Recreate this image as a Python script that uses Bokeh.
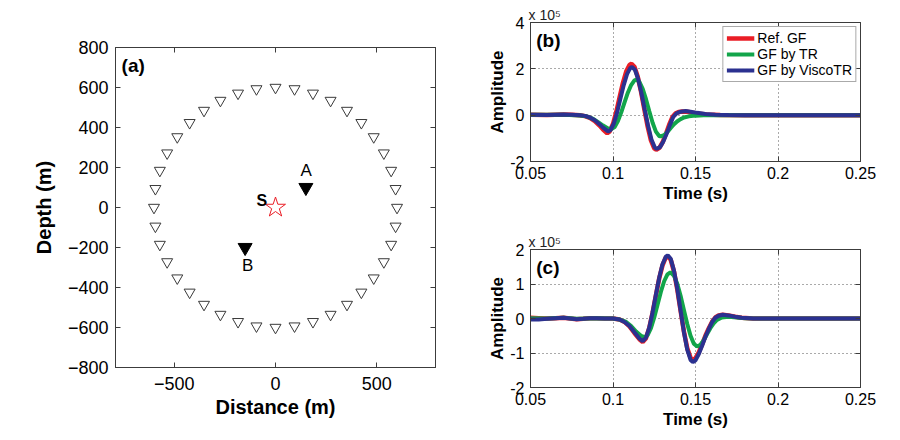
from bokeh.plotting import figure
from bokeh.models import Range1d, LinearAxis, FixedTicker, Label, Legend, LegendItem, CustomJSTickFormatter
from bokeh.layouts import row, column
from bokeh.embed import file_html
from bokeh.resources import INLINE

FONT = "Liberation Sans"
AX = "#3c3c3c"
RED = "#EA1D25"
GREEN = "#12A54A"
BLUE = "#2B3190"

# ---------------- Panel (a) data ----------------
station_x = [600, 593, 571, 535, 485, 424, 353, 272, 185, 94, 0, -94, -185, -272, -353, -424, -485, -535, -571, -593,
             -600, -593, -571, -535, -485, -424, -353, -272, -185, -94, 0, 94, 185, 272, 353, 424, 485, 535, 571, 593]
station_y = [0, 94, 185, 272, 353, 424, 485, 535, 571, 593, 600, 593, 571, 535, 485, 424, 353, 272, 185, 94,
             0, -94, -185, -272, -353, -424, -485, -535, -571, -593, -600, -593, -571, -535, -485, -424, -353, -272, -185, -94]
receiver_names = ["A", "B"]
receiver_x = [150, -150]
receiver_y = [100, -200]
source_x = [0]
source_y = [0]
a_xticks = [-500, 0, 500]
a_xlabels = ["\u2212500", "0", "500"]
a_yticks = [-800, -600, -400, -200, 0, 200, 400, 600, 800]
a_ylabels = ["\u2212800", "\u2212600", "\u2212400", "\u2212200", "0", "200", "400", "600", "800"]

# ---------------- Panel (b) data (amplitude x 1e5) ----------------
b_t_ref = [0.050, 0.060, 0.070, 0.075, 0.080, 0.083, 0.086, 0.089, 0.092, 0.094, 0.0965, 0.098, 0.100, 0.102, 0.104,
           0.106, 0.108, 0.110, 0.1112, 0.113, 0.115, 0.117, 0.119, 0.121, 0.123, 0.125, 0.1262, 0.128, 0.130, 0.132,
           0.134, 0.136, 0.138, 0.140, 0.142, 0.145, 0.148, 0.152, 0.157, 0.165, 0.180, 0.250]
b_a_ref = [0.02, 0.01, 0.03, 0.02, 0.00, -0.04, -0.12, -0.26, -0.46, -0.62, -0.78, -0.70, -0.38, 0.14, 0.77,
           1.385, 1.88, 2.17, 2.22, 2.09, 1.66, 1.01, 0.25, -0.49, -1.09, -1.43, -1.49, -1.42, -1.18, -0.82,
           -0.42, -0.08, 0.08, 0.14, 0.16, 0.15, 0.11, 0.06, 0.03, 0.01, 0.00, 0.00]
b_t_tr = [0.050, 0.070, 0.080, 0.084, 0.088, 0.091, 0.094, 0.097, 0.099, 0.101, 0.103, 0.105, 0.107, 0.109, 0.111,
          0.113, 0.1142, 0.116, 0.118, 0.120, 0.122, 0.124, 0.126, 0.128, 0.1288, 0.131, 0.133, 0.135, 0.137, 0.139,
          0.141, 0.143, 0.146, 0.150, 0.155, 0.165, 0.180, 0.250]
b_a_tr = [0.02, 0.02, -0.01, -0.05, -0.16, -0.30, -0.45, -0.57, -0.60, -0.51, -0.255, 0.12, 0.55, 0.97, 1.30,
          1.50, 1.53, 1.44, 1.14, 0.69, 0.17, -0.33, -0.71, -0.90, -0.92, -0.86, -0.72, -0.55, -0.39, -0.26,
          -0.17, -0.10, -0.05, -0.02, 0.00, 0.01, 0.00, 0.00]
b_t_visco = [0.050, 0.060, 0.070, 0.075, 0.080, 0.083, 0.086, 0.089, 0.092, 0.094, 0.097, 0.0985, 0.1005, 0.1025, 0.1045,
             0.1065, 0.1085, 0.1105, 0.1115, 0.1133, 0.1153, 0.1173, 0.1193, 0.1213, 0.1233, 0.1253, 0.1265, 0.1285,
             0.1305, 0.1325, 0.1345, 0.1365, 0.1385, 0.141, 0.144, 0.147, 0.151, 0.156, 0.162, 0.170, 0.180, 0.250]
b_a_visco = [0.02, 0.01, 0.03, 0.02, 0.00, -0.03, -0.10, -0.22, -0.40, -0.54, -0.70, -0.64, -0.36, 0.12, 0.72,
             1.30, 1.77, 2.04, 2.08, 1.96, 1.55, 0.93, 0.22, -0.47, -1.05, -1.39, -1.45, -1.38,
             -1.14, -0.80, -0.42, -0.08, 0.08, 0.15, 0.18, 0.15, 0.10, 0.05, 0.02, 0.01, 0.00, 0.00]

# ---------------- Panel (c) data (amplitude x 1e5) ----------------
c_t_ref = [0.050, 0.055, 0.060, 0.065, 0.070, 0.074, 0.078, 0.082, 0.086, 0.090, 0.095, 0.100, 0.104, 0.107, 0.110,
           0.113, 0.116, 0.118, 0.120, 0.122, 0.124, 0.126, 0.128, 0.130, 0.132, 0.1332, 0.135, 0.137, 0.139, 0.141,
           0.143, 0.145, 0.147, 0.1484, 0.150, 0.152, 0.154, 0.156, 0.158, 0.160, 0.162, 0.164, 0.1665, 0.170, 0.174,
           0.178, 0.185, 0.200, 0.250]
c_a_ref = [0.02, 0.01, 0.00, 0.01, 0.02, 0.00, -0.02, -0.01, 0.01, 0.01, 0.00, 0.00, -0.03, -0.10, -0.23,
           -0.42, -0.60, -0.68, -0.57, -0.27, 0.17, 0.67, 1.16, 1.54, 1.77, 1.80, 1.70, 1.35, 0.83, 0.21,
           -0.38, -0.86, -1.14, -1.20, -1.15, -0.98, -0.75, -0.50, -0.29, -0.10, 0.03, 0.09, 0.11, 0.09, 0.05,
           0.02, 0.00, 0.00, 0.00]
c_t_tr = [0.050, 0.060, 0.070, 0.078, 0.090, 0.100, 0.104, 0.108, 0.111, 0.114, 0.117, 0.1192, 0.121, 0.123, 0.125,
          0.127, 0.129, 0.131, 0.133, 0.1348, 0.137, 0.139, 0.141, 0.143, 0.145, 0.147, 0.149, 0.151, 0.153, 0.155,
          0.157, 0.159, 0.161, 0.163, 0.166, 0.170, 0.175, 0.180, 0.190, 0.250]
c_a_tr = [0.01, 0.00, 0.02, -0.01, 0.01, 0.00, -0.03, -0.10, -0.22, -0.38, -0.50, -0.54, -0.48, -0.28, 0.03,
          0.40, 0.77, 1.08, 1.28, 1.34, 1.24, 1.00, 0.65, 0.24, -0.16, -0.50, -0.73, -0.81, -0.76, -0.63,
          -0.45, -0.28, -0.14, -0.04, 0.03, 0.05, 0.03, 0.01, 0.00, 0.00]
c_t_visco = c_t_ref
c_a_visco = [-0.03, -0.03, -0.01, 0.01, 0.02, 0.00, -0.02, -0.01, 0.01, 0.01, 0.00, 0.00, -0.03, -0.10, -0.22,
             -0.40, -0.58, -0.66, -0.555, -0.26, 0.18, 0.69, 1.18, 1.57, 1.79, 1.83, 1.73, 1.38, 0.85, 0.22,
             -0.40, -0.90, -1.20, -1.26, -1.21, -1.03, -0.79, -0.53, -0.31, -0.11, 0.02, 0.08, 0.11, 0.09, 0.05,
             0.02, 0.00, 0.00, 0.00]

t_ticks = [0.05, 0.1, 0.15, 0.2, 0.25]
t_labels = ["0.05", "0.1", "0.15", "0.2", "0.25"]
b_yticks = [-2, 0, 2, 4]
b_ylabels = ["-2", "0", "2", "4"]
c_yticks = [-2, -1, 0, 1, 2]
c_ylabels = ["-2", "-1", "0", "1", "2"]
series_names = ["Ref. GF", "GF by TR", "GF by ViscoTR"]
scale_text = "x 10\u2075"


def style_axes(p, xticks, xlabels, yticks, ylabels, tick_size, xlabel, ylabel, label_size):
    bottom = p.below[0]
    left = p.left[0]
    bottom.ticker = FixedTicker(ticks=xticks)
    bottom.major_label_overrides = dict(zip(xticks, xlabels))
    left.ticker = FixedTicker(ticks=yticks)
    left.major_label_overrides = dict(zip(yticks, ylabels))
    bottom.axis_label = xlabel
    left.axis_label = ylabel
    top = LinearAxis(ticker=FixedTicker(ticks=xticks), formatter=CustomJSTickFormatter(code="return ''"))
    right = LinearAxis(ticker=FixedTicker(ticks=yticks), formatter=CustomJSTickFormatter(code="return ''"))
    p.add_layout(top, "above")
    p.add_layout(right, "right")
    for ax in [bottom, left, top, right]:
        ax.axis_line_color = AX
        ax.axis_line_width = 1
        ax.major_tick_line_color = AX
        ax.major_tick_in = 5
        ax.major_tick_out = 0
        ax.minor_tick_line_color = None
        ax.major_label_text_font = FONT
        ax.major_label_text_color = "black"
        ax.axis_label_text_font = FONT
        ax.axis_label_text_font_style = "bold"
        ax.axis_label_text_color = "black"
    for ax in [top, right]:
        ax.major_label_text_font_size = "0px"
        ax.major_label_standoff = 0
    for ax in [bottom, left]:
        ax.major_label_text_font_size = tick_size
        ax.axis_label_text_font_size = label_size
    p.outline_line_color = AX
    return bottom, left


def text_label(x, y, text, size, bold=False, align="center", baseline="middle"):
    return Label(x=x, y=y, text=text, text_font=FONT, text_font_size=size,
                 text_font_style="bold" if bold else "normal", text_color="black",
                 text_align=align, text_baseline=baseline)


# ---------------- Figure (a) ----------------
pa = figure(width=460, height=432, output_backend="svg", toolbar_location=None,
            x_range=Range1d(-790, 790), y_range=Range1d(-800, 800),
            min_border_left=115, min_border_right=25, min_border_top=47, min_border_bottom=65)
pa.xgrid.grid_line_color = None
pa.ygrid.grid_line_color = None
ab, al = style_axes(pa, a_xticks, a_xlabels, a_yticks, a_ylabels, "18px", "Distance (m)", "Depth (m)", "20px")
ab.major_label_standoff = 9
ab.axis_label_standoff = 3
al.major_label_standoff = 7
al.axis_label_standoff = 10

pa.scatter(station_x, station_y, marker="inverted_triangle", size=11, fill_color=None,
           line_color="#3a3a3a", line_width=1)
pa.scatter(receiver_x, receiver_y, marker="inverted_triangle", size=14, fill_color="black",
           line_color="black")
pa.scatter(source_x, source_y, marker="star", size=21, fill_color=None, line_color=RED, line_width=1)

pa.add_layout(text_label(-760, 712, "(a)", "19px", bold=True, align="left", baseline="alphabetic"))
pa.add_layout(text_label(source_x[0] - 68, source_y[0] + 35, "S", "16px", bold=True))
pa.add_layout(text_label(receiver_x[0] + 2, receiver_y[0] + 85, receiver_names[0], "17px"))
pa.add_layout(text_label(receiver_x[1] + 13, receiver_y[1] - 88, receiver_names[1], "17px"))


def wave_fig(height, top, bottom, yr, yticks, ylabels, tag):
    p = figure(width=432, height=height, output_backend="svg", toolbar_location=None,
               x_range=Range1d(0.05, 0.25), y_range=Range1d(*yr), title=scale_text,
               min_border_left=70, min_border_right=32, min_border_top=top, min_border_bottom=bottom)
    p.title.text_font = FONT
    p.title.text_font_size = "14px"
    p.title.text_font_style = "normal"
    p.title.text_color = "#222222"
    p.title.align = "left"
    p.title.standoff = 0
    p.title.offset = -2
    xb, yl = style_axes(p, t_ticks, t_labels, yticks, ylabels, "16px", "Time (s)", "Amplitude", "17px")
    xb.major_label_standoff = 5
    xb.axis_label_standoff = 2
    yl.major_label_standoff = 6
    yl.axis_label_standoff = 0
    p.xgrid.ticker = FixedTicker(ticks=t_ticks)
    p.ygrid.ticker = FixedTicker(ticks=yticks)
    for g in [p.xgrid[0], p.ygrid[0]]:
        g.grid_line_color = "#555555"
        g.grid_line_dash = "1 3"
        g.grid_line_width = 1
    p.add_layout(text_label(0.0535, yr[1] - (yr[1] - yr[0]) * 0.13, tag, "19px", bold=True,
                            align="left", baseline="alphabetic"))
    return p


pb = wave_fig(205, 22, 44, (-2, 4), b_yticks, b_ylabels, "(b)")
rb1 = pb.line(b_t_ref, b_a_ref, line_color=RED, line_width=4.5)
rb2 = pb.line(b_t_tr, b_a_tr, line_color=GREEN, line_width=4)
rb3 = pb.line(b_t_visco, b_a_visco, line_color=BLUE, line_width=4)
leg = Legend(items=[LegendItem(label=series_names[0], renderers=[rb1]),
                    LegendItem(label=series_names[1], renderers=[rb2]),
                    LegendItem(label=series_names[2], renderers=[rb3])],
             location="top_right")
leg.label_text_font = FONT
leg.label_text_font_size = "14px"
leg.label_text_color = "black"
leg.border_line_color = "#555555"
leg.border_line_width = 1
leg.glyph_width = 28
leg.glyph_height = 16
leg.label_height = 16
leg.label_standoff = 3
leg.spacing = 0
leg.padding = 3
leg.margin = 4
pb.add_layout(leg)

pc = wave_fig(227, 44, 45, (-2, 2), c_yticks, c_ylabels, "(c)")
pc.line(c_t_ref, c_a_ref, line_color=RED, line_width=4.5)
pc.line(c_t_tr, c_a_tr, line_color=GREEN, line_width=4)
pc.line(c_t_visco, c_a_visco, line_color=BLUE, line_width=4)

layout = row(pa, column(pb, pc, spacing=0), spacing=0)
open("out.html", "w").write(file_html(layout, INLINE))
